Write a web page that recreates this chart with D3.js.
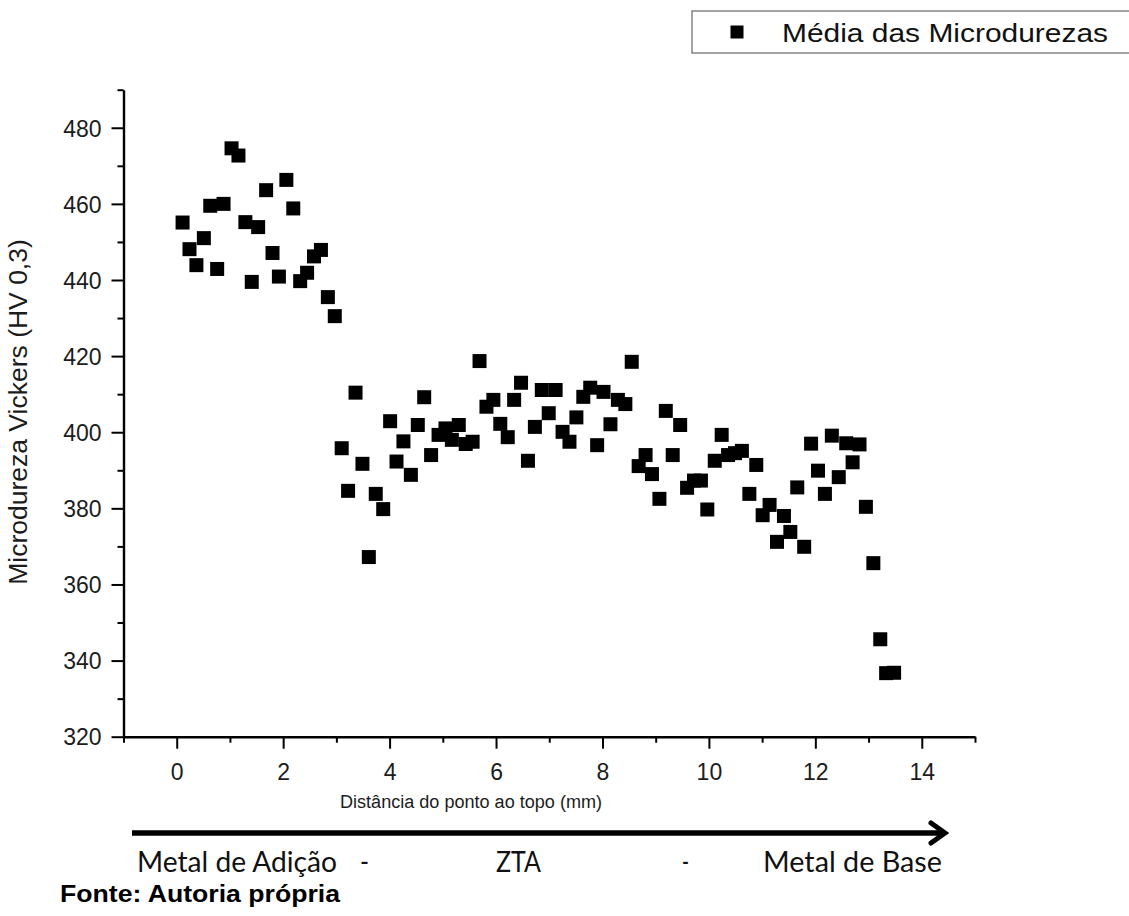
<!DOCTYPE html>
<html>
<head>
<meta charset="utf-8">
<script src="https://cdn.jsdelivr.net/npm/d3@7"></script>
<style>
  body { margin: 0; background: #fff; }
  svg { display: block; }
</style>
</head>
<body>
<div id="chart"></div>
<script>
// distance from the top of the weld (mm)
const distancia = [
  0.11, 0.24, 0.37, 0.51, 0.63, 0.76, 0.88, 1.03, 1.16, 1.29, 1.41, 1.53,
  1.68, 1.80, 1.92, 2.06, 2.19, 2.32, 2.45, 2.58, 2.71, 2.84, 2.97,
  3.10, 3.22, 3.36, 3.49, 3.61, 3.74, 3.88, 4.01, 4.13, 4.26, 4.40, 4.53,
  4.65, 4.78, 4.92, 5.05, 5.17, 5.30, 5.43, 5.56, 5.69, 5.82, 5.95, 6.08,
  6.22, 6.34, 6.47, 6.60, 6.73, 6.86, 6.99, 7.12, 7.25, 7.38, 7.51, 7.64,
  7.77, 7.90, 8.02, 8.15,
  8.29, 8.43, 8.55, 8.68, 8.81, 8.93, 9.07, 9.19, 9.32, 9.46, 9.59, 9.72,
  9.85, 9.97, 10.11, 10.24, 10.36, 10.49, 10.62, 10.76, 10.89, 11.01, 11.14,
  11.28, 11.41, 11.53, 11.66, 11.79, 11.92, 12.05, 12.18, 12.31, 12.44,
  12.58, 12.70, 12.83, 12.95, 13.09, 13.22, 13.33, 13.48
];
// mean Vickers microhardness (HV 0,3)
const microdureza = [
  455.1, 448.1, 443.9, 451.0, 459.5, 442.9, 460.0, 474.6, 472.7, 455.2, 439.5, 453.9,
  463.6, 447.1, 440.9, 466.3, 458.8, 439.7, 441.9, 446.2, 447.9, 435.5, 430.5,
  395.8, 384.6, 410.4, 391.7, 367.2, 383.8, 379.8, 402.9, 392.3, 397.6, 388.8, 401.9,
  409.2, 394.0, 399.3, 401.0, 398.0, 401.9, 396.9, 397.5, 418.7, 406.7, 408.5, 402.2,
  398.7, 408.5, 413.0, 392.5, 401.4, 411.1, 405.0, 411.1, 400.1, 397.5, 403.9, 409.3,
  411.7, 396.6, 410.6, 402.1,
  408.5, 407.4, 418.5, 391.1, 394.0, 389.0, 382.5, 405.6, 394.0, 401.9, 385.4, 387.3,
  387.3, 379.7, 392.5, 399.3, 394.0, 394.5, 395.1, 383.8, 391.4, 378.2, 380.9,
  371.2, 378.0, 373.8, 385.5, 369.9, 397.0, 389.9, 383.8, 399.1, 388.2,
  397.1, 392.1, 396.8, 380.4, 365.6, 345.6, 336.7, 336.8
];

const xTicks = [0, 2, 4, 6, 8, 10, 12, 14];
const xMinor = [-1, 1, 3, 5, 7, 9, 11, 13, 15];
const yTicks = [320, 340, 360, 380, 400, 420, 440, 460, 480];
const yMinor = [330, 350, 370, 390, 410, 430, 450, 470, 490];

const serieNome = "Média das Microdurezas";
const eixoX = "Distância do ponto ao topo (mm)";
const eixoY = "Microdureza Vickers (HV 0,3)";
const zonas = ["Metal de Adição", "-", "ZTA", "-", "Metal de Base"];
const fonte = "Fonte: Autoria própria";

const W = 1129, H = 916;
const svg = d3.select("#chart").append("svg")
  .attr("width", W).attr("height", H);

const x = d3.scaleLinear().domain([-1, 15]).range([123.5, 975]);
const y = d3.scaleLinear().domain([320, 490]).range([736.7, 89.7]);

const tickFont = "Arial, 'Liberation Sans', sans-serif";

// minor ticks
svg.append("g")
  .attr("transform", "translate(0," + y(320) + ")")
  .call(d3.axisBottom(x).tickValues(xMinor).tickSize(6).tickSizeOuter(0).tickFormat(""))
  .call(g => g.select(".domain").remove());
svg.append("g")
  .attr("transform", "translate(" + x(-1) + ",0)")
  .call(d3.axisLeft(y).tickValues(yMinor).tickSize(6).tickSizeOuter(0).tickFormat(""))
  .call(g => g.select(".domain").remove());

// major axes
const gx = svg.append("g")
  .attr("transform", "translate(0," + y(320) + ")")
  .call(d3.axisBottom(x).tickValues(xTicks).tickSize(12).tickSizeOuter(0).tickPadding(15));
const gy = svg.append("g")
  .attr("transform", "translate(" + x(-1) + ",0)")
  .call(d3.axisLeft(y).tickValues(yTicks).tickSize(12).tickSizeOuter(0).tickPadding(10));

svg.selectAll(".tick line").attr("stroke", "#000").attr("stroke-width", 2);
svg.selectAll(".domain").attr("stroke", "#000").attr("stroke-width", 2.4);
svg.selectAll(".tick text")
  .attr("fill", "#1c1c1c")
  .style("font-family", tickFont)
  .style("font-size", "23px");
gx.selectAll(".tick text").attr("dy", "0.71em");
gy.selectAll(".tick text").attr("dy", "0.36em");

// axis titles
svg.append("text")
  .attr("x", 340).attr("y", 808)
  .attr("textLength", 262).attr("lengthAdjust", "spacingAndGlyphs")
  .style("font-family", tickFont).style("font-size", "18px")
  .attr("fill", "#1c1c1c")
  .text(eixoX);

svg.append("text")
  .attr("transform", "translate(27,412) rotate(-90)")
  .attr("text-anchor", "middle")
  .style("font-family", tickFont).style("font-size", "26.5px")
  .attr("fill", "#1c1c1c")
  .text(eixoY);

// data points
const pontos = distancia.map((d, i) => ({ x: d, y: microdureza[i] }));
svg.append("g").selectAll("path")
  .data(pontos)
  .enter().append("path")
  .attr("transform", d => "translate(" + x(d.x) + "," + y(d.y) + ")")
  .attr("d", d3.symbol(d3.symbolSquare, 14 * 14))
  .attr("fill", "#000");

// legend
const leg = svg.append("g");
leg.append("rect")
  .attr("x", 692).attr("y", 11).attr("width", 460).attr("height", 42)
  .attr("fill", "#fff").attr("stroke", "#666").attr("stroke-width", 1.2);
leg.append("path")
  .attr("transform", "translate(737,32)")
  .attr("d", d3.symbol(d3.symbolSquare, 13 * 13))
  .attr("fill", "#000");
leg.append("text")
  .attr("x", 782).attr("y", 42)
  .attr("textLength", 326).attr("lengthAdjust", "spacingAndGlyphs")
  .style("font-family", tickFont).style("font-size", "25.5px")
  .attr("fill", "#111")
  .text(serieNome);

// arrow under the chart
svg.append("line")
  .attr("x1", 132).attr("y1", 833).attr("x2", 942).attr("y2", 833)
  .attr("stroke", "#000").attr("stroke-width", 5.5);
svg.append("polyline")
  .attr("points", "931,823 945,833 931,843")
  .attr("fill", "none").attr("stroke", "#000").attr("stroke-width", 5)
  .attr("stroke-linecap", "round");

// zones below the arrow
const zonaX = [137, 360, 496, 682, 763];
const zonaW = [200, 9, 45, 7, 179];
svg.append("g").selectAll("text")
  .data(zonas)
  .enter().append("text")
  .attr("x", (d, i) => zonaX[i]).attr("y", 872)
  .attr("textLength", (d, i) => zonaW[i]).attr("lengthAdjust", "spacingAndGlyphs")
  .style("font-family", "Lato, 'Open Sans', sans-serif").style("font-size", "28px")
  .attr("fill", "#111")
  .text(d => d);

svg.append("text")
  .attr("x", 60).attr("y", 902)
  .attr("textLength", 280).attr("lengthAdjust", "spacingAndGlyphs")
  .style("font-family", tickFont).style("font-size", "23.5px").style("font-weight", "bold")
  .attr("fill", "#000")
  .text(fonte);
</script>
</body>
</html>
